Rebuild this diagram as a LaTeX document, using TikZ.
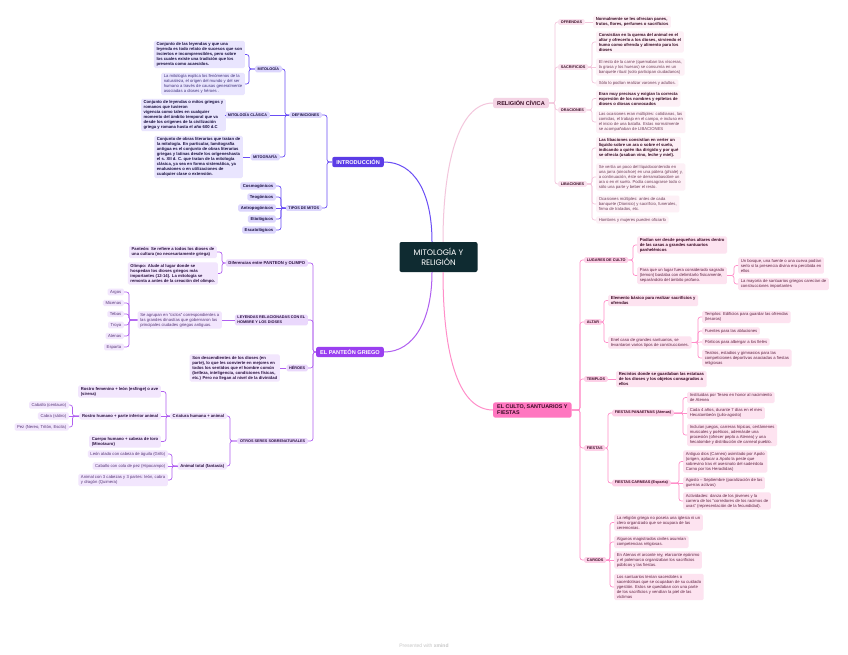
\documentclass[tikz,border=0pt]{standalone}
\usepackage{fontspec}
\setmainfont{Liberation Sans}
\newfontfamily\titlefont{Poppins}
\definecolor{ctr}{HTML}{0F2B31}
\definecolor{iMain}{HTML}{5B3CE6}\definecolor{iLn}{HTML}{6A4EF5}\definecolor{iL2}{HTML}{DCD6FD}\definecolor{iLf}{HTML}{E9E5FE}\definecolor{iTxB}{HTML}{1A1040}\definecolor{iTx}{HTML}{42347E}
\definecolor{pMain}{HTML}{9A3FF0}\definecolor{pLn}{HTML}{B060F0}\definecolor{pL2}{HTML}{EAD8FC}\definecolor{pLf}{HTML}{F2E6FD}\definecolor{pTxB}{HTML}{2A1240}\definecolor{pTx}{HTML}{553575}
\definecolor{rMain}{HTML}{F4D3E4}\definecolor{rLn}{HTML}{F3C6DC}\definecolor{rL2}{HTML}{FAE1EE}\definecolor{rLf}{HTML}{FDF0F6}\definecolor{rTxB}{HTML}{3A0E26}\definecolor{rTx}{HTML}{6E3F59}
\definecolor{cMain}{HTML}{FF77C0}\definecolor{cLn}{HTML}{FF8EC9}\definecolor{cL2}{HTML}{FDD0E7}\definecolor{cLf}{HTML}{FDE3F0}\definecolor{cTxB}{HTML}{3A0A24}\definecolor{cTx}{HTML}{602443}
\tikzset{
  base/.style={rounded corners=1.5, inner ysep=1.6, inner xsep=2.6, align=left},
  body/.style={font=\fontsize{4.2}{5.0}\selectfont},
  bodyb/.style={font=\bfseries\fontsize{4.2}{5.0}\selectfont},
  caps/.style={font=\bfseries\fontsize{3.8}{4.7}\selectfont},
  mainbox/.style={rounded corners=2, inner xsep=4, inner ysep=2.6, align=left, font=\bfseries\fontsize{5.6}{6.4}\selectfont},
  l2I/.style={base, caps, fill=iL2, text=iTxB},
  lfI/.style={base, body, fill=iLf, text=iTx},
  lfIb/.style={base, bodyb, fill=iLf, text=iTxB},
  tpI/.style={base, bodyb, fill=iL2, text=iTxB},
  l2P/.style={base, caps, fill=pL2, text=pTxB},
  lfP/.style={base, body, fill=pLf, text=pTx},
  lfPb/.style={base, bodyb, fill=pLf, text=pTxB},
  dfP/.style={base, bodyb, fill=pL2, text=pTxB},
  l2R/.style={base, caps, fill=rL2, text=rTxB},
  lfR/.style={base, body, fill=rLf, text=rTx},
  lfRb/.style={base, bodyb, fill=rLf, text=rTxB},
  l2C/.style={base, caps, fill=cL2, text=cTxB},
  lfC/.style={base, body, fill=cLf, text=cTx},
  lfCb/.style={base, bodyb, fill=cLf, text=cTxB},
  lnI/.style={draw=iLn, line width=0.7, rounded corners=2.5},
  lnP/.style={draw=pLn, line width=0.7, rounded corners=2.5},
  lnR/.style={draw=rLn, line width=0.7, rounded corners=2.5},
  lnC/.style={draw=cLn, line width=0.7, rounded corners=2.5},
}
\newcommand\cn[5]{\draw[#1] (#2) -- (#3,#4) |- (#5);}
\begin{document}
\begin{tikzpicture}[x=1pt,y=-1pt]
\useasboundingbox[fill=white] (0,0) rectangle (848,654);
% center
\node[fill=ctr, text=white, rounded corners=2, minimum width=78, minimum height=30, align=center, font=\titlefont\fontsize{8}{10}\selectfont] (c) at (438.5,257) {MITOLOGÍA Y\\RELIGIÓN};
% main branches
\node[mainbox, fill=iMain, text=white, anchor=east] (intro) at (384,162) {INTRODUCCIÓN};
\node[mainbox, fill=pMain, text=white, anchor=east] (pant) at (384,352) {EL PANTEÓN GRIEGO};
\node[mainbox, fill=rMain, text=rTxB, anchor=west] (rel) at (493,103) {RELIGIÓN CÍVICA};
\node[mainbox, fill=cMain, text=cTxB, anchor=west, font=\bfseries\fontsize{5.4}{6.2}\selectfont] (cult) at (493,410) {EL CULTO, SANTUARIOS Y\\FIESTAS};
\draw[iLn, line width=1] (intro.east) .. controls (414,162) and (432,192) .. ([xshift=-6.5]c.north);
\draw[pLn, line width=1] (pant.east) .. controls (414,352) and (432,320) .. ([xshift=-6.5]c.south);
\draw[rLn, line width=1] ([xshift=4.5]c.north) .. controls (443,165) and (458,103) .. (rel.west);
\draw[cLn, line width=1] ([xshift=4.5]c.south) .. controls (443,360) and (460,410) .. (cult.west);

% ---------- INTRODUCCION
\node[l2I, anchor=east] (def) at (322,115) {DEFINICIONES};
\node[l2I, anchor=east] (tip) at (322,208) {TIPOS DE MITOS};
\cn{lnI}{intro.west}{327}{162}{def.east}
\cn{lnI}{intro.west}{327}{162}{tip.east}
\node[l2I, anchor=east] (mit) at (282,69) {MITOLOGÍA};
\node[l2I, anchor=east] (mcl) at (270,115) {MITOLOGÍA CLÁSICA};
\node[l2I, anchor=east] (mgr) at (280,157) {MITOGRAFÍA};
\cn{lnI}{def.west}{285}{115}{mit.east}
\draw[lnI] (def.west) -- (mcl.east);
\cn{lnI}{def.west}{285}{115}{mgr.east}
\node[lfIb, anchor=east] (mit1) at (245,54.5) {Conjunto de las leyendas y que una\\leyenda es todo relato de sucesos que son\\inciertos e incomprensibles, pero sobre\\los cuales existe una tradición que los\\presenta como acaecidos.};
\node[lfI, anchor=east] (mit2) at (245,84) {La mitología explica los fenómenos de la\\naturaleza, el origen del mundo y del ser\\humano a través de causas generalmente\\asociadas a dioses y héroes .};
\cn{lnI}{mit.west}{249}{69}{mit1.east}
\cn{lnI}{mit.west}{249}{69}{mit2.east}
\node[lfIb, anchor=east] (mcl1) at (226,115) {Conjunto de leyendas o mitos griegos y\\romanos que tuvieron\\vigencia como tales en cualquier\\momento del ámbito temporal que va\\desde los orígenes de la civilización\\griega y romana hasta el año 600 d.C};
\draw[lnI] (mcl.west) -- (mcl1.east);
\node[lfIb, anchor=east] (mgr1) at (243,157) {Conjunto de obras literarias que tratan de\\la mitología. En particular, lamitografía\\antigua es el conjunto de obras literarias\\griegas y latinas desde los orígeneshasta\\el s. XII d. C. que tratan de la mitología\\clásica, ya sea en forma sistemática, ya\\enalusiones o en utilizaciones de\\cualquier clase o extensión.};
\draw[lnI] (mgr.west) -- (mgr1.east);
\node[tpI, anchor=east] (t1) at (276,186) {Cosmogónicos};
\node[tpI, anchor=east] (t2) at (276,197) {Teogónicos};
\node[tpI, anchor=east] (t3) at (276,208) {Antropogónicos};
\node[tpI, anchor=east] (t4) at (276,219) {Etiológicos};
\node[tpI, anchor=east] (t5) at (276,230) {Escatológicos};
\cn{lnI}{tip.west}{281}{208}{t1.east}
\cn{lnI}{tip.west}{281}{208}{t2.east}
\draw[lnI] (tip.west) -- (t3.east);
\cn{lnI}{tip.west}{281}{208}{t4.east}
\cn{lnI}{tip.west}{281}{208}{t5.east}

% ---------- PANTEON
\node[dfP, anchor=east] (dif) at (308,263) {Diferencias entre PANTEON y OLIMPO};
\node[l2P, anchor=east] (ley) at (308,320) {LEYENDAS RELACIONADAS CON EL\\HOMBRE Y LOS DIOSES};
\node[l2P, anchor=east] (her) at (308,368) {HÉROES};
\node[l2P, anchor=east] (otr) at (308,441) {OTROS SERES SOBRENATURALES};
\cn{lnP}{pant.west}{313}{352}{dif.east}
\cn{lnP}{pant.west}{313}{352}{ley.east}
\cn{lnP}{pant.west}{313}{352}{her.east}
\cn{lnP}{pant.west}{313}{352}{otr.east}
\node[lfPb, anchor=east] (pan1) at (217,252) {Panteón: Se refiere a todos los dioses de\\una cultura (no necesariamente griega)};
\node[lfPb, anchor=east] (oli1) at (218,273.5) {Olimpo: Alude al lugar donde se\\hospedan los dioses griegos más\\importantes (12-14). La mitología se\\remonta a antes de la creación del olimpo.};
\cn{lnP}{dif.west}{222}{263}{pan1.east}
\cn{lnP}{dif.west}{222}{263}{oli1.east}
\node[lfP, anchor=east] (cic) at (222,320) {Se agrupan en “ciclos” correspondientes a\\las grandes dinastías que gobernaron las\\principales ciudades griegas antiguas.};
\draw[lnP] (ley.west) -- (cic.east);
\node[lfP, anchor=east] (k1) at (124,292) {Argos};
\node[lfP, anchor=east] (k2) at (124,303) {Micenas};
\node[lfP, anchor=east] (k3) at (124,314) {Tebas};
\node[lfP, anchor=east] (k4) at (124,325) {Troya};
\node[lfP, anchor=east] (k5) at (124,336) {Atenas};
\node[lfP, anchor=east] (k6) at (124,347) {Esparta};
\cn{lnP}{cic.west}{129}{320}{k1.east}
\cn{lnP}{cic.west}{129}{320}{k2.east}
\cn{lnP}{cic.west}{129}{320}{k3.east}
\cn{lnP}{cic.west}{129}{320}{k4.east}
\cn{lnP}{cic.west}{129}{320}{k5.east}
\cn{lnP}{cic.west}{129}{320}{k6.east}
\node[lfPb, anchor=east] (her1) at (280,368) {Son descendientes de los dioses (en\\parte), lo que les convierte en mejores en\\todos los sentidos que el hombre común\\(belleza, inteligencia, condiciones físicas,\\etc.) Pero no llegan al nivel de la divinidad};
\draw[lnP] (her.west) -- (her1.east);
\node[lfPb, anchor=east] (cri) at (227,416) {Criatura humana + animal};
\node[lfPb, anchor=east] (ani) at (227,466) {Animal total (fantasía)};
\cn{lnP}{otr.west}{230}{441}{cri.east}
\cn{lnP}{otr.west}{230}{441}{ani.east}
\node[lfPb, anchor=east] (rf) at (161,391.5) {Rostro femenino + león (esfinge) o ave\\(sirena)};
\node[lfPb, anchor=east] (rh) at (161,416) {Rostro humano + parte inferior animal};
\node[lfPb, anchor=east] (ch) at (161,441.5) {Cuerpo humano + cabeza de toro\\(Minotauro)};
\cn{lnP}{cri.west}{166}{416}{rf.east}
\draw[lnP] (cri.west) -- (rh.east);
\cn{lnP}{cri.west}{166}{416}{ch.east}
\node[lfP, anchor=east] (cab) at (69,405) {Caballo (centauro)};
\node[lfP, anchor=east] (cabr) at (69,416) {Cabra (sátiro)};
\node[lfP, anchor=east] (pez) at (69,427) {Pez (Nereo, Tritón, Escila)};
\cn{lnP}{rh.west}{72.5}{416}{cab.east}
\draw[lnP] (rh.west) -- (cabr.east);
\cn{lnP}{rh.west}{72.5}{416}{pez.east}
\node[lfP, anchor=east] (gri) at (168,454) {León alado con cabeza de águila (Grifo)};
\node[lfP, anchor=east] (hip) at (168,466) {Caballo con cola de pez (Hipocampo)};
\node[lfP, anchor=east] (qui) at (168,480) {Animal con 3 cabezas y 3 partes: león, cabra\\y dragón (Quimera)};
\cn{lnP}{ani.west}{172}{466}{gri.east}
\draw[lnP] (ani.west) -- (hip.east);
\cn{lnP}{ani.west}{172}{466}{qui.east}

% ---------- RELIGION CIVICA
\node[l2R, anchor=west] (ofr) at (558,22) {OFRENDAS};
\node[l2R, anchor=west] (sac) at (558,67) {SACRIFICIOS};
\node[l2R, anchor=west] (ora) at (558,110) {ORACIONES};
\node[l2R, anchor=west] (lib) at (558,184) {LIBACIONES};
\cn{lnR}{rel.east}{555}{103}{ofr.west}
\cn{lnR}{rel.east}{555}{103}{sac.west}
\cn{lnR}{rel.east}{555}{103}{ora.west}
\cn{lnR}{rel.east}{555}{103}{lib.west}
\node[lfRb, anchor=west] (of1) at (593,22) {Normalmente se les ofrecian panes,\\frutos, flores, perfumes o sacrificios};
\draw[lnR] (ofr.east) -- (of1.west);
\node[lfRb, anchor=west] (s1) at (596,42) {Consistían en la quema del animal en el\\altar y ofrecerlo a los dioses, sirviendo el\\humo como ofrenda y alimento para los\\dioses};
\node[lfR, anchor=west] (s2) at (596,67) {El resto de la carne (quemaban las vísceras,\\la grasa y los huesos) se consumía en un\\banquete ritual (solo participan ciudadanos)};
\node[lfR, anchor=west] (s3) at (596,83) {Sólo lo podían realizar varones y adultos.};
\cn{lnR}{sac.east}{592}{67}{s1.west}
\draw[lnR] (sac.east) -- (s2.west);
\cn{lnR}{sac.east}{592}{67}{s3.west}
\node[lfRb, anchor=west] (o1) at (596,98.5) {Eran muy precisas y exigían la correcta\\expresión de los nombres y epítetos de\\dioses o diosas convocados};
\node[lfR, anchor=west] (o2) at (596,122) {Las ocasiones eran múltiples: cotidianas, las\\comidas, el trabajo en el campo, e incluso en\\el inicio de una batalla. Estas normalmente\\se acompañaban de LIBACIONES};
\cn{lnR}{ora.east}{592}{110}{o1.west}
\cn{lnR}{ora.east}{592}{110}{o2.west}
\node[lfRb, anchor=west] (b1) at (596,148) {Las libaciones consistían en verter un\\líquido sobre un ara o sobre el suelo,\\indicando a quién iba dirigido y por qué\\se ofrecía (usaban vino, leche y miel).};
\node[lfR, anchor=west] (b2) at (596,177) {Se vertía un poco del líquidocontenido en\\una jarra (oinochoe) en una pátera (phiale) y,\\a continuación, éste se derramabasobre un\\ara o en el suelo. Podía consagrarse todo o\\sólo una parte y beber el resto.};
\node[lfR, anchor=west] (b3) at (596,204) {Ocasiones múltiples: antes de cada\\banquete (Dionisio) y sacrificio, funerales,\\firma de tratados, etc.};
\node[lfR, anchor=west] (b4) at (596,220) {Hombres y mujeres pueden oficiarlo};
\cn{lnR}{lib.east}{592}{184}{b1.west}
\cn{lnR}{lib.east}{592}{184}{b2.west}
\cn{lnR}{lib.east}{592}{184}{b3.west}
\cn{lnR}{lib.east}{592}{184}{b4.west}

% ---------- CULTO
\node[l2C, anchor=west] (lug) at (584,260) {LUGARES DE CULTO};
\node[l2C, anchor=west] (alt) at (584,322) {ALTAR};
\node[l2C, anchor=west] (tem) at (584,379) {TEMPLOS};
\node[l2C, anchor=west] (fie) at (584,448) {FIESTAS};
\node[l2C, anchor=west] (car) at (584,560) {CARGOS};
\cn{lnC}{cult.east}{580}{410}{lug.west}
\cn{lnC}{cult.east}{580}{410}{alt.west}
\cn{lnC}{cult.east}{580}{410}{tem.west}
\cn{lnC}{cult.east}{580}{410}{fie.west}
\cn{lnC}{cult.east}{580}{410}{car.west}
\node[lfCb, anchor=west] (lg1) at (637,245) {Podían ser desde pequeños altares dentro\\de las casas a grandes santuarios\\panhelénicos};
\node[lfC, anchor=west] (lg2) at (637,275.5) {Para que un lugar fuera considerado sagrado\\(temon) bastaba con delimitarlo físicamente,\\separándolo del ámbito profano.};
\cn{lnC}{lug.east}{633}{260}{lg1.west}
\cn{lnC}{lug.east}{633}{260}{lg2.west}
\node[lfC, anchor=west] (lg21) at (738,265.5) {Un bosque, una fuente o una cueva podían\\serlo si la presencia divina era percibida en\\ellos};
\node[lfC, anchor=west] (lg22) at (738,284) {La mayoría de santuarios griegos carecían de\\construcciones importantes};
\cn{lnC}{lg2.east}{734}{275.5}{lg21.west}
\cn{lnC}{lg2.east}{734}{275.5}{lg22.west}
\node[lfCb, anchor=west] (al1) at (608,300.5) {Elemento básico para realizar sacrificios y\\ofrendas};
\node[lfC, anchor=west] (al2) at (608,342.5) {Enel caso de grandes santuarios, se\\levantaron varios tipos de construcciones.};
\cn{lnC}{alt.east}{604}{322}{al1.west}
\cn{lnC}{alt.east}{604}{322}{al2.west}
\node[lfC, anchor=west] (a21) at (702,317) {Templos: Edificios para guardar las ofrendas\\(tesoros)};
\node[lfC, anchor=west] (a22) at (702,331) {Fuentes para las abluciones};
\node[lfC, anchor=west] (a23) at (702,342) {Pórticos para albergar a los fieles};
\node[lfC, anchor=west] (a24) at (702,358) {Teatros, estadios y gimnasios para las\\competiciones deportivas asociadas a fiestas\\religiosas};
\cn{lnC}{al2.east}{698}{342.5}{a21.west}
\cn{lnC}{al2.east}{698}{342.5}{a22.west}
\draw[lnC] (al2.east) -- (a23.west);
\cn{lnC}{al2.east}{698}{342.5}{a24.west}
\node[lfCb, anchor=west] (tm1) at (616,379) {Recintos donde se guardaban las estatuas\\de los dioses y los objetos consagrados a\\ellos};
\draw[lnC] (tem.east) -- (tm1.west);
\node[l2C, anchor=west] (pa) at (612,413) {FIESTAS PANAETNAS (Atenas)};
\node[l2C, anchor=west] (ca) at (612,483) {FIESTAS CARNEAS (Esparta)};
\cn{lnC}{fie.east}{608}{448}{pa.west}
\cn{lnC}{fie.east}{608}{448}{ca.west}
\node[lfC, anchor=west] (pa1) at (687,397.5) {Instituidas por Teseo en honor al nacimiento\\de Atenea};
\node[lfC, anchor=west] (pa2) at (687,413) {Cada 4 años, durante 7 días en el mes\\Hecatombeón (julio-agosto)};
\node[lfC, anchor=west] (pa3) at (687,435) {Incluían juegos, carreras hípicas, certámenes\\musicales y poéticos, ademásde una\\procesión (ofrecer peplo a Atenea) y una\\hecatombe y distribución de carneal pueblo.};
\cn{lnC}{pa.east}{683}{413}{pa1.west}
\draw[lnC] (pa.east) -- (pa2.west);
\cn{lnC}{pa.east}{683}{413}{pa3.west}
\node[lfC, anchor=west] (ca1) at (683,461.5) {Antiguo dios (Carneo) asimilado por Apolo\\(origen, aplacar a Apolo la peste que\\sobrevino tras el asesinato del sadeirdota\\Carno por los Heraclidas)};
\node[lfC, anchor=west] (ca2) at (683,483) {Agosto – Septiembre (paralización de las\\guerras activas)};
\node[lfC, anchor=west] (ca3) at (683,501) {Actividades: danza de los jóvenes y la\\carrera de los “corredores de los racimos de\\uvas” (representación de la fecundidad).};
\cn{lnC}{ca.east}{679}{483}{ca1.west}
\draw[lnC] (ca.east) -- (ca2.west);
\cn{lnC}{ca.east}{679}{483}{ca3.west}
\node[lfC, anchor=west] (g1) at (614,522.5) {La religión griega no poseía una iglesia ni un\\clero organizado que se ocupara de las\\ceremonias.};
\node[lfC, anchor=west] (g2) at (614,542) {Algunos magistrados civiles asumían\\competencias religiosas.};
\node[lfC, anchor=west] (g3) at (614,560) {En Atenas el arconte rey, elarconte epónimo\\y el polemarco organizaban los sacrificios\\públicos y las fiestas.};
\node[lfC, anchor=west] (g4) at (614,587) {Los santuarios tenían sacerdotes o\\sacerdotisas que se ocupaban de su cuidado\\ygestión. Estos se quedaban con una parte\\de los sacrificios y vendían la piel de las\\víctimas};
\cn{lnC}{car.east}{610}{560}{g1.west}
\cn{lnC}{car.east}{610}{560}{g2.west}
\draw[lnC] (car.east) -- (g3.west);
\cn{lnC}{car.east}{610}{560}{g4.west}

\node[text=black!22, font=\fontsize{5}{6}\selectfont] (foot) at (424,646) {Presented with \textbf{xmind}};
\end{tikzpicture}
\end{document}
